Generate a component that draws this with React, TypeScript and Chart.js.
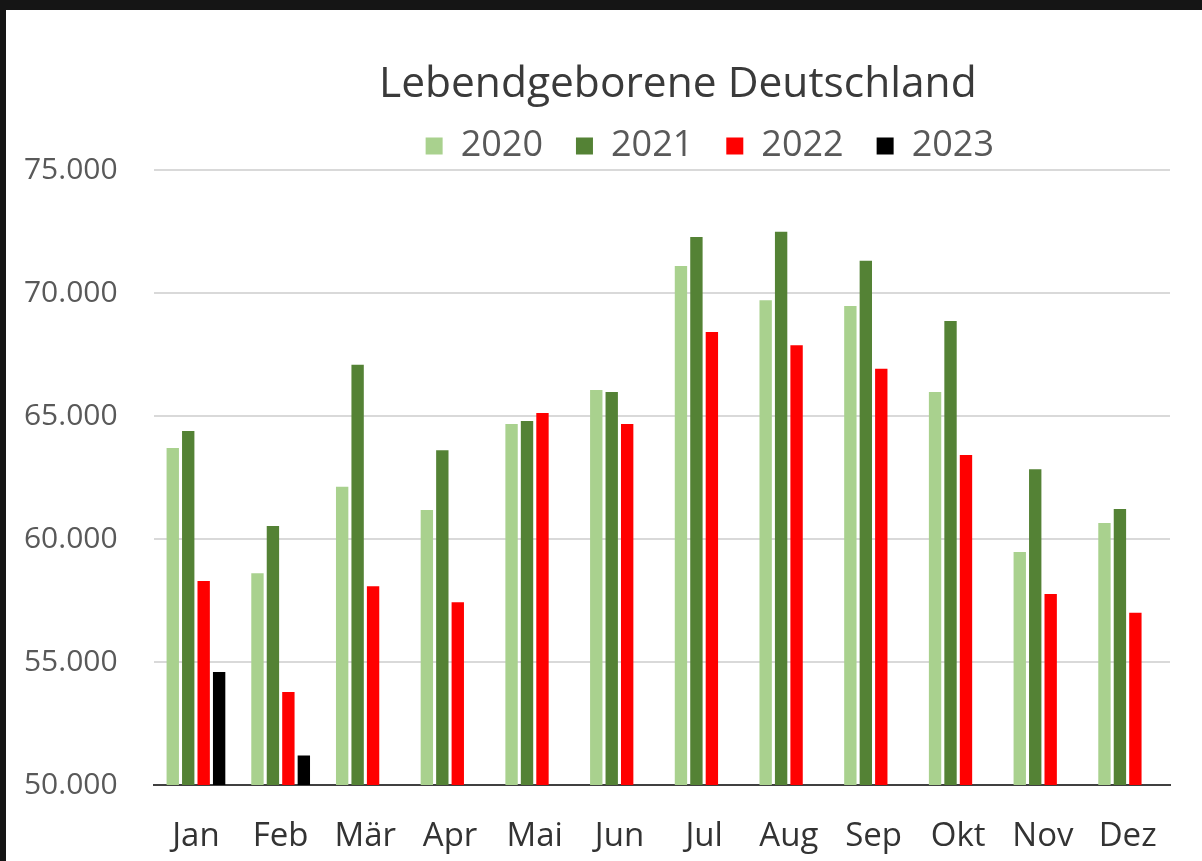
import React, { useEffect, useRef } from "react";
import { Chart, registerables } from "chart.js";

Chart.register(...registerables);

const months = ["Jan", "Feb", "Mär", "Apr", "Mai", "Jun", "Jul", "Aug", "Sep", "Okt", "Nov", "Dez"];
const seriesYears = ["2020", "2021", "2022", "2023"];
const births2020 = [63700, 58610, 62120, 61180, 64670, 66060, 71100, 69710, 69470, 65980, 59470, 60650];
const births2021 = [64390, 60530, 67080, 63610, 64800, 65980, 72280, 72490, 71310, 68860, 62840, 61220];
const births2022 = [58290, 53780, 58080, 57430, 65120, 64670, 68410, 67880, 66920, 63410, 57760, 57000];
const births2023 = [54590, 51200, null, null, null, null, null, null, null, null, null, null];
const yTickValues = [50000, 55000, 60000, 65000, 70000, 75000];
const seriesColors = ["#a9d18e", "#548235", "#ff0000", "#000000"];

const FONT = "'Open Sans', 'Liberation Sans', sans-serif";

const fmt = (v: number) => {
  const s = Math.round(v).toString();
  return s.replace(/\B(?=(\d{3})+(?!\d))/g, ".");
};

const nudgePlugin = {
  id: "nudge",
  afterLayout(chart: any) {
    const t = chart.titleBlock;
    if (t) {
      t.left += 16;
      t.right += 16;
      t.top += 19;
      t.bottom += 19;
    }
    const l = chart.legend;
    if (l) {
      l.left += 48;
      l.right += 48;
      l.top += 4;
      l.bottom += 4;
    }
  },
};

export default function App() {
  const ref = useRef<HTMLCanvasElement | null>(null);

  useEffect(() => {
    if (!ref.current) return;
    const data = [births2020, births2021, births2022, births2023];
    const chart = new Chart(ref.current, {
      type: "bar",
      data: {
        labels: months,
        datasets: seriesYears.map((y, i) => ({
          label: y,
          data: data[i] as any,
          backgroundColor: seriesColors[i],
          borderWidth: 0,
          categoryPercentage: 0.73,
          barPercentage: 0.8,
        })),
      },
      options: {
        responsive: false,
        animation: false,
        layout: { padding: { left: 0, right: 32, top: 0, bottom: 0 } },
        plugins: {
          title: {
            display: true,
            text: "Lebendgeborene Deutschland",
            fullSize: false,
            color: "#3a3a3a",
            font: { family: FONT, size: 42.5, weight: "normal", lineHeight: 1.2 },
            padding: { top: 30, bottom: 0 },
          },
          legend: {
            display: true,
            fullSize: false,
            labels: {
              color: "#595959",
              font: { family: FONT, size: 36 },
              boxWidth: 17,
              boxHeight: 17,
              padding: 33,
            },
          },
          tooltip: { enabled: false },
        },
        scales: {
          x: {
            grid: { display: false },
            border: { display: true, color: "#404040", width: 2 },
            ticks: {
              color: "#333333",
              font: { family: FONT, size: 33 },
              padding: 24,
              maxRotation: 0,
            },
            afterFit: (s: any) => {
              s.height = 76;
            },
          },
          y: {
            min: 50000,
            max: 75000,
            afterBuildTicks: (s: any) => {
              s.ticks = yTickValues.map((v) => ({ value: v }));
            },
            grid: { color: "#d9d9d9", lineWidth: 2, drawTicks: false },
            border: { display: false },
            ticks: {
              color: "#595959",
              font: { family: FONT, size: 30 },
              padding: 36,
              callback: (v: any) => fmt(Number(v)),
            },
            afterFit: (s: any) => {
              s.width = 147.6;
            },
          },
        },
      },
      plugins: [nudgePlugin],
    });
    return () => chart.destroy();
  }, []);

  return (
    <div
      style={{
        position: "fixed",
        left: 0,
        top: 0,
        width: 1202,
        height: 861,
        background: "#151515",
        overflow: "hidden",
      }}
    >
      <canvas
        ref={ref}
        width={1196}
        height={851}
        style={{ position: "absolute", left: 6, top: 10, width: 1196, height: 851, background: "#ffffff" }}
      />
    </div>
  );
}
